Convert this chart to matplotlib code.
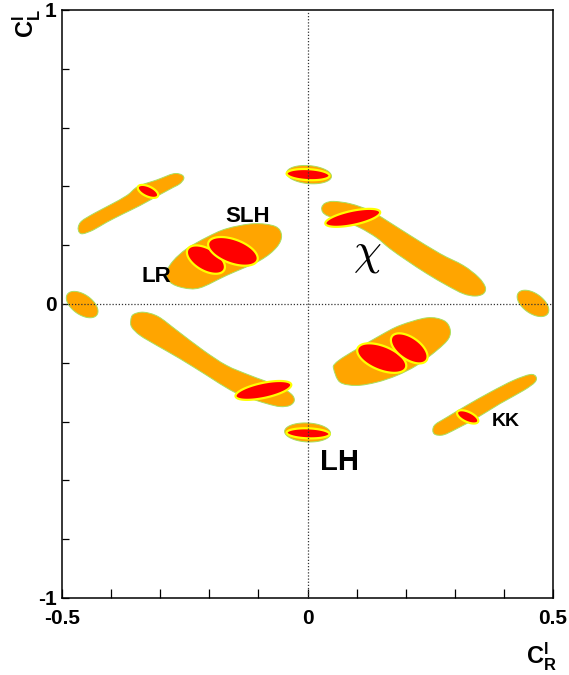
import numpy as np
import matplotlib
matplotlib.use("Agg")
import matplotlib.pyplot as plt
from matplotlib.path import Path
from matplotlib.patches import PathPatch, Polygon

# ---- data (C_R^l on x, C_L^l on y) ----
# orange allowed regions drawn as outlines (x list, y list)
blob_ul_x = [-0.467, -0.460, -0.436, -0.402, -0.368, -0.345, -0.307, -0.273, -0.256, -0.252,
             -0.260, -0.273, -0.304, -0.341, -0.375, -0.409, -0.436, -0.457, -0.465]
blob_ul_y = [0.261, 0.282, 0.307, 0.337, 0.369, 0.400, 0.422, 0.443, 0.439, 0.426,
             0.409, 0.397, 0.369, 0.335, 0.307, 0.278, 0.252, 0.239, 0.244]

blob_slh_x = [-0.287, -0.280, -0.253, -0.219, -0.165, -0.097, -0.063, -0.053, -0.066,
              -0.110, -0.165, -0.205, -0.246, -0.273]
blob_slh_y = [0.108, 0.074, 0.055, 0.055, 0.097, 0.148, 0.193, 0.233, 0.264,
              0.273, 0.256, 0.227, 0.188, 0.148]

blob_chi_x = [0.029, 0.036, 0.053, 0.087, 0.127, 0.161, 0.209, 0.270, 0.317, 0.348, 0.362,
              0.358, 0.341, 0.317, 0.284, 0.243, 0.202, 0.168, 0.141, 0.107, 0.073, 0.042, 0.031]
blob_chi_y = [0.329, 0.343, 0.349, 0.341, 0.318, 0.284, 0.233, 0.171, 0.131, 0.091, 0.057,
              0.035, 0.027, 0.035, 0.063, 0.103, 0.148, 0.188, 0.225, 0.259, 0.282, 0.299, 0.312]

blob_ll_x = [-0.360, -0.355, -0.334, -0.304, -0.266, -0.212, -0.165, -0.117, -0.063, -0.034, -0.027,
             -0.036, -0.056, -0.083, -0.124, -0.158, -0.205, -0.260, -0.307, -0.341, -0.358]
blob_ll_y = [-0.056, -0.036, -0.028, -0.043, -0.090, -0.158, -0.209, -0.243, -0.277, -0.305, -0.328,
             -0.345, -0.349, -0.339, -0.317, -0.292, -0.243, -0.186, -0.141, -0.107, -0.079]

blob_lr_x = [0.053, 0.056, 0.073, 0.107, 0.148, 0.188, 0.243, 0.277, 0.290, 0.287,
             0.263, 0.222, 0.182, 0.141, 0.100, 0.066]
blob_lr_y = [-0.220, -0.203, -0.181, -0.147, -0.107, -0.073, -0.047, -0.056, -0.084, -0.118,
             -0.158, -0.209, -0.243, -0.266, -0.277, -0.266]

blob_kk_x = [0.255, 0.260, 0.284, 0.324, 0.372, 0.419, 0.453, 0.465, 0.463, 0.440,
             0.392, 0.345, 0.304, 0.277, 0.260]
blob_kk_y = [-0.430, -0.410, -0.385, -0.345, -0.300, -0.260, -0.240, -0.247, -0.266, -0.294,
             -0.339, -0.387, -0.424, -0.445, -0.444]

blobs = [(blob_ul_x, blob_ul_y), (blob_slh_x, blob_slh_y), (blob_chi_x, blob_chi_y),
         (blob_ll_x, blob_ll_y), (blob_lr_x, blob_lr_y), (blob_kk_x, blob_kk_y)]

# orange elliptic regions: centre x, centre y, semi-axes (in x units), tilt (deg on screen)
oval_cx = [-0.459, 0.459, 0.003, 0.000]
oval_cy = [-0.002, 0.002, 0.440, -0.437]
oval_a = [0.0367, 0.0367, 0.0458, 0.0468]
oval_b = [0.0204, 0.0204, 0.0183, 0.0193]
oval_ang = [-35, -35, -5, -3]

# red (smaller) regions with yellow rim
red_cx = [-0.325, -0.207, -0.152, 0.001, 0.092, -0.090, 0.001, 0.151, 0.207, 0.326]
red_cy = [0.383, 0.151, 0.179, 0.440, 0.293, -0.294, -0.440, -0.184, -0.151, -0.384]
red_a = [0.0224, 0.0428, 0.0530, 0.0438, 0.0570, 0.0580, 0.0438, 0.0530, 0.0428, 0.0234]
red_b = [0.0102, 0.0224, 0.0244, 0.0112, 0.0143, 0.0153, 0.0102, 0.0244, 0.0224, 0.0102]
red_ang = [-25, -30, -20, -3, 12, 12, -2, -22, -35, -25]

# model labels
lab_text = ["SLH", "LR", "LH", "KK"]
lab_x = [-0.123, -0.308, 0.066, 0.404]
lab_y = [0.298, 0.094, -0.539, -0.400]
lab_size = [16, 16, 21, 14]
chi_pos = (0.121, 0.168)

plt.rcParams["font.family"] = ["Liberation Sans", "DejaVu Sans"]
plt.rcParams["font.weight"] = "bold"
plt.rcParams["mathtext.fontset"] = "custom"
plt.rcParams["mathtext.default"] = "bf"
plt.rcParams["mathtext.bf"] = "Liberation Sans:bold"
plt.rcParams["mathtext.rm"] = "Liberation Sans:bold"

fig = plt.figure(figsize=(5.69, 6.75), dpi=100)
ax = fig.add_axes([0.109, 0.1141, 0.8631, 0.8711])
ax.set_xlim(-0.5, 0.5)
ax.set_ylim(-1, 1)

# screen aspect: how many y units one x unit covers on screen
pos = ax.get_position()
k = (2.0 / (pos.height * 6.75)) / (1.0 / (pos.width * 5.69))


def ellipse_xy(cx, cy, a, b, ang):
    t = np.linspace(0, 2 * np.pi, 120)
    th = np.radians(ang)
    u, v = a * np.cos(t), b * np.sin(t)
    return cx + u * np.cos(th) - v * np.sin(th), cy + (u * np.sin(th) + v * np.cos(th)) * k


def smooth_path(xs, ys):
    # closed Catmull-Rom curve through the outline points
    p = np.column_stack([xs, ys])
    n = len(p)
    verts = [p[0]]
    codes = [Path.MOVETO]
    for i in range(n):
        p0, p1, p2, p3 = p[i - 1], p[i], p[(i + 1) % n], p[(i + 2) % n]
        verts += [p1 + (p2 - p0) / 6, p2 - (p3 - p1) / 6, p2]
        codes += [Path.CURVE4] * 3
    return Path(verts, codes)


orange = "#ffa500"
rim = "#a8e060"
for bx, by in blobs:
    ax.add_patch(PathPatch(smooth_path(bx, by), facecolor=orange, edgecolor=rim, lw=0.7, zorder=2))
for i in range(len(oval_cx)):
    ex, ey = ellipse_xy(oval_cx[i], oval_cy[i], oval_a[i], oval_b[i], oval_ang[i])
    ax.add_patch(Polygon(np.column_stack([ex, ey]), facecolor=orange, edgecolor=rim, lw=0.7, zorder=2))
for i in range(len(red_cx)):
    ex, ey = ellipse_xy(red_cx[i], red_cy[i], red_a[i], red_b[i], red_ang[i])
    ax.add_patch(Polygon(np.column_stack([ex, ey]), facecolor="#ff0000", edgecolor="#ffff00",
                         lw=1.6, zorder=3))

ax.axhline(0, color="#333333", lw=0.9, ls=(0, (1, 1.5)), zorder=4)
ax.axvline(0, color="#333333", lw=0.9, ls=(0, (1, 1.5)), zorder=4)

for t, x, y, s in zip(lab_text, lab_x, lab_y, lab_size):
    ax.text(x, y, t, fontsize=s, fontweight="bold", ha="center", va="center", zorder=5)
ax.text(chi_pos[0], chi_pos[1], r"$\chi$", fontsize=32, math_fontfamily="cm",
        ha="center", va="center", zorder=5)

ax.set_xticks([-0.5, 0, 0.5])
ax.set_xticklabels(["-0.5", "0", "0.5"])
ax.set_xticks(np.arange(-0.4, 0.5, 0.1), minor=True)
ax.set_yticks([-1, 0, 1])
ax.set_yticklabels(["-1", "0", "1"])
ax.set_yticks(np.arange(-0.8, 1.0, 0.2), minor=True)
ax.tick_params(axis="x", which="both", direction="in", length=6.5, width=0.9, labelsize=15, pad=8)
ax.tick_params(axis="y", which="both", direction="in", length=5, width=0.9, labelsize=15, pad=4)
for lab in ax.get_xticklabels() + ax.get_yticklabels():
    lab.set_fontweight("bold")
for sp in ax.spines.values():
    sp.set_linewidth(1.1)

fig.text(0.951, 0.027, r"$C_R^l$", fontsize=17, ha="center", va="center")
fig.text(0.047, 0.965, r"$C_L^l$", fontsize=17, ha="center", va="center", rotation=90)

fig.savefig("out.png", dpi=100)
